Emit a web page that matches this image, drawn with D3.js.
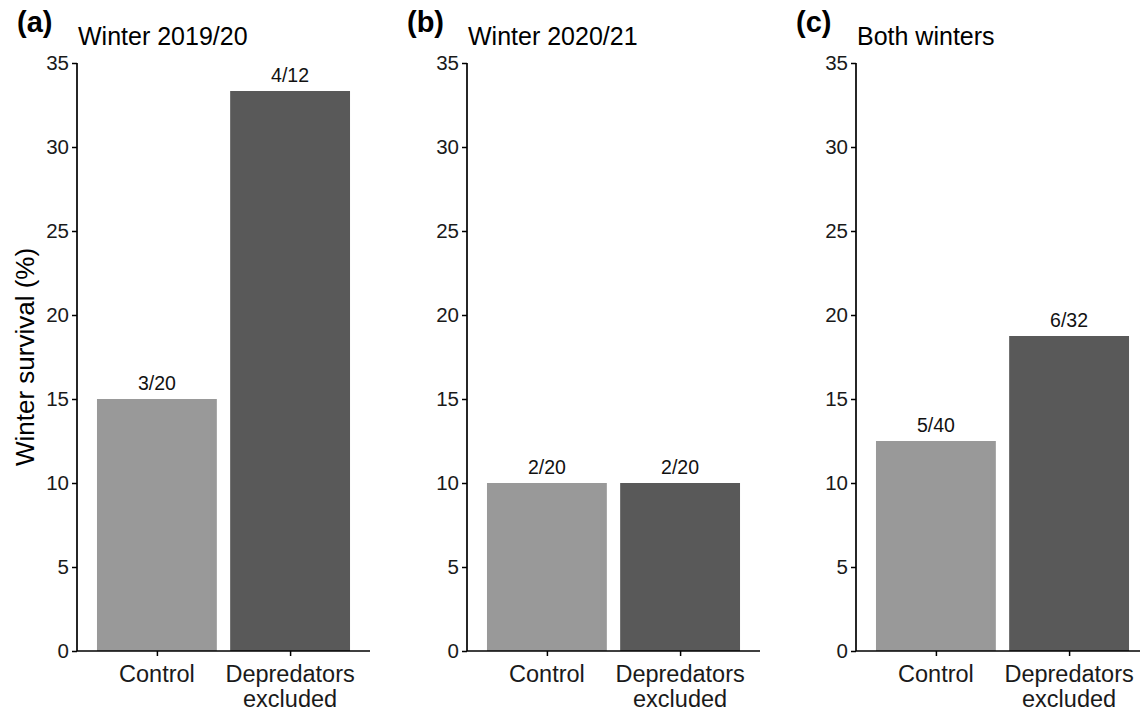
<!DOCTYPE html>
<html><head><meta charset="utf-8">
<script src="https://cdn.jsdelivr.net/npm/d3@7"></script>
<style>body{margin:0;background:#fff}svg{display:block}text{font-family:"Liberation Sans",Arial,sans-serif}</style>
</head><body>
<svg id="c" width="1140" height="711"></svg>
<script>
const panelTags = ["(a)", "(b)", "(c)"];
const panelTitles = ["Winter 2019/20", "Winter 2020/21", "Both winters"];
const categories = ["Control", "Depredators excluded"];
const survival = [
  [15, 33.333],
  [10, 10],
  [12.5, 18.75]
];
const countLabels = [
  ["3/20", "4/12"],
  ["2/20", "2/20"],
  ["5/40", "6/32"]
];
const yTicks = [0, 5, 10, 15, 20, 25, 30, 35];
const barColors = ["#999999", "#595959"];

const svg = d3.select("#c");
const axisX0 = [77, 467, 856];
const pw = 293;
const yTop = 63, yBot = 651;
const y = d3.scaleLinear().domain([0, 35]).range([yBot, yTop]);

panelTags.forEach((tag, i) => {
  const x = d3.scaleLinear().domain([0.4, 2.6]).range([axisX0[i], axisX0[i] + pw]);
  const g = svg.append("g");
  g.selectAll("rect").data(categories).join("rect")
    .attr("x", (d, j) => x(j + 1 - 0.45))
    .attr("width", (d, j) => x(j + 1 + 0.45) - x(j + 1 - 0.45))
    .attr("y", (d, j) => y(survival[i][j]))
    .attr("height", (d, j) => y(0) - y(survival[i][j]))
    .attr("fill", (d, j) => barColors[j]);
  g.selectAll("text.val").data(categories).join("text").attr("class", "val")
    .attr("x", (d, j) => x(j + 1))
    .attr("y", (d, j) => y(survival[i][j]) - 9)
    .attr("text-anchor", "middle").attr("font-size", 19.5).attr("fill", "#111")
    .text((d, j) => countLabels[i][j]);
  const ya = g.append("g").attr("transform", `translate(${axisX0[i]},0)`)
    .call(d3.axisLeft(y).tickValues(yTicks).tickSize(5).tickPadding(3));
  ya.select(".domain").attr("stroke", "#000").attr("stroke-width", 1.7).attr("d", `M0,${yTop}V${yBot}`);
  ya.selectAll(".tick line").attr("stroke", "#000").attr("stroke-width", 1.5);
  ya.selectAll(".tick text").attr("font-size", 20.5).attr("fill", "#1a1a1a").attr("font-family", "Liberation Sans, Arial, sans-serif");
  const xa = g.append("g").attr("transform", `translate(0,${yBot})`)
    .call(d3.axisBottom(x).tickValues([1, 2]).tickSize(5).tickFormat(() => ""));
  xa.select(".domain").attr("stroke", "#000").attr("stroke-width", 1.7).attr("d", `M${axisX0[i]},0H${axisX0[i] + pw}`);
  xa.selectAll(".tick line").attr("stroke", "#000").attr("stroke-width", 1.5);
  categories.forEach((c, j) => {
    const words = c.split(" ");
    const t = g.append("text").attr("x", x(j + 1)).attr("y", 682)
      .attr("text-anchor", "middle").attr("font-size", 23.5).attr("fill", "#1a1a1a");
    words.forEach((w, k) => t.append("tspan").attr("x", x(j + 1)).attr("dy", k === 0 ? 0 : 25).text(w));
  });
  g.append("text").attr("x", axisX0[i] - 60).attr("y", 32).attr("font-size", 29).attr("font-weight", "bold").attr("fill", "#000").text(tag);
  g.append("text").attr("x", axisX0[i] + 1).attr("y", 45).attr("font-size", 25).attr("fill", "#000").text(panelTitles[i]);
});

svg.append("text").attr("transform", `translate(34,${(yTop + yBot) / 2}) rotate(-90)`)
  .attr("text-anchor", "middle").attr("font-size", 26).attr("fill", "#000").text("Winter survival (%)");
</script>
</body></html>
